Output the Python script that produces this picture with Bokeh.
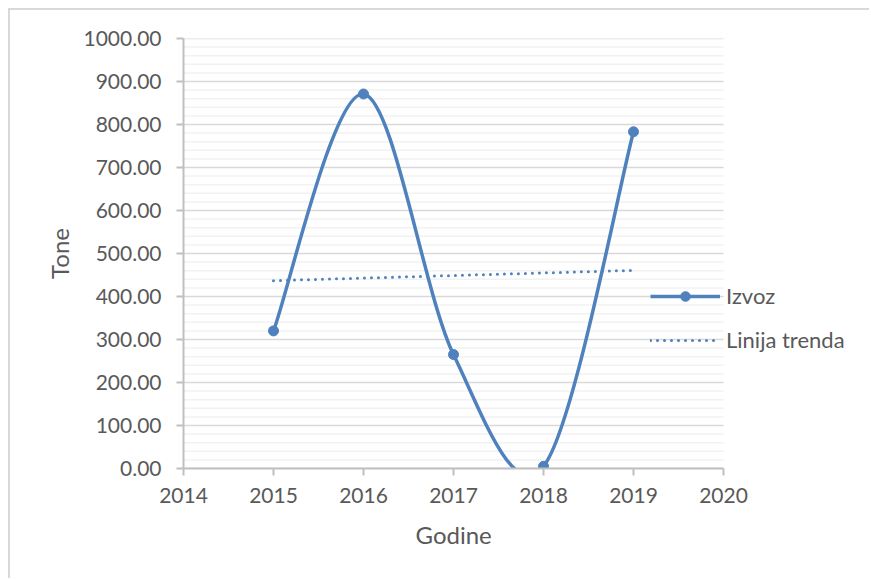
import numpy as np
from bokeh.plotting import figure
from bokeh.models import FixedTicker, SingleIntervalTicker, PrintfTickFormatter, Legend, LegendItem, Range1d, Title
from bokeh.embed import file_html
from bokeh.resources import INLINE

years = [2015, 2016, 2017, 2018, 2019]
izvoz = [320.0, 871.0, 265.0, 5.0, 783.0]
x_ticks = [2014, 2015, 2016, 2017, 2018, 2019, 2020]
y_major_step = 100
y_minor_step = 20
y_max = 1000

BLUE = "#4f81bd"
FONT = "Lato"
TXT = "#595959"

W, H = 861, 570
ML, MR, MT, MB = 173, 10, 28, 112
frame_w = W - ML - MR
px_per_year = 90.0
x_end = x_ticks[0] + frame_w / px_per_year

p = figure(width=W, height=H, output_backend="svg", toolbar_location=None,
           x_range=Range1d(x_ticks[0], x_end), y_range=Range1d(0, y_max),
           min_border_left=ML, min_border_right=MR, min_border_top=MT, min_border_bottom=MB)
p.styles = {"margin-left": "8px", "margin-top": "8px",
            "border-left": "2px solid #d9d9d9", "border-top": "2px solid #d9d9d9"}
p.outline_line_color = None
p.xgrid.grid_line_color = None
p.ygrid.grid_line_color = None

# grid lines limited to the axis span
minor_y = [v for v in range(0, y_max + 1, y_minor_step) if v % y_major_step != 0]
major_y = list(range(0, y_max + 1, y_major_step))
p.segment(x0=[x_ticks[0]] * len(minor_y), x1=[x_ticks[-1]] * len(minor_y), y0=minor_y, y1=minor_y,
          line_color="#f2f2f2", line_width=1.5)
p.segment(x0=[x_ticks[0]] * len(major_y), x1=[x_ticks[-1]] * len(major_y), y0=major_y, y1=major_y,
          line_color="#d9d9d9", line_width=1.5)

# smooth (Catmull-Rom style) bezier through data points
xs = np.array(years, dtype=float)
ys = np.array(izvoz, dtype=float)
n = len(xs)
xp = np.concatenate([[xs[0]], xs, [xs[-1]]])
yp = np.concatenate([[ys[0]], ys, [ys[-1]]])
x0 = xs[:-1]; y0 = ys[:-1]; x1 = xs[1:]; y1 = ys[1:]
cx0 = x0 + (xp[2:n+1] - xp[0:n-1]) / 6.0
cy0 = y0 + (yp[2:n+1] - yp[0:n-1]) / 6.0
cx1 = x1 - (xp[3:n+2] - xp[1:n]) / 6.0
cy1 = y1 - (yp[3:n+2] - yp[1:n]) / 6.0
p.bezier(x0=x0, y0=y0, x1=x1, y1=y1, cx0=cx0, cy0=cy0, cx1=cx1, cy1=cy1,
         line_color=BLUE, line_width=3.5)

line_leg = p.line([np.nan], [np.nan], line_color=BLUE, line_width=3.5)
pts = p.scatter(years, izvoz, size=10, fill_color=BLUE, line_color=BLUE)

# linear trend line
k, b = np.polyfit(xs, ys, 1)
tx = [years[0], years[-1]]
ty = [k * years[0] + b, k * years[-1] + b]
trend = p.line(tx, ty, line_color=BLUE, line_width=3, line_dash="0 7", line_cap="round")

legend = Legend(items=[LegendItem(label="Izvoz", renderers=[line_leg, pts]),
                       LegendItem(label="Linija trenda", renderers=[trend])],
                location=(467, 115), glyph_width=70, glyph_height=24, label_height=27,
                spacing=17, padding=0, margin=0, label_standoff=6,
                label_text_font=FONT, label_text_font_size="22px", label_text_color=TXT,
                border_line_color=None, background_fill_alpha=0)
p.add_layout(legend)

# axes
p.xaxis.ticker = FixedTicker(ticks=x_ticks)
p.xaxis.bounds = (x_ticks[0], x_ticks[-1])
p.yaxis.ticker = SingleIntervalTicker(interval=y_major_step, num_minor_ticks=5)
p.yaxis.formatter = PrintfTickFormatter(format="%.2f")
for ax in (p.xaxis, p.yaxis):
    ax.axis_line_color = "#bfbfbf"
    ax.axis_line_width = 2
    ax.major_tick_line_color = "#bfbfbf"
    ax.major_tick_line_width = 2
    ax.major_tick_out = 7
    ax.major_tick_in = 0
    ax.minor_tick_line_color = None
    ax.major_label_text_font = FONT
    ax.major_label_text_font_size = "21px"
    ax.major_label_text_color = TXT
    ax.axis_label_text_font = FONT
    ax.axis_label_text_font_size = "24px"
    ax.axis_label_text_color = TXT
    ax.axis_label_text_font_style = "normal"
p.yaxis.axis_label = "Tone"
p.yaxis.major_label_standoff = 15
p.xaxis.major_label_standoff = 12
p.yaxis.axis_label_standoff = 6

# x-axis title, centred under the 2014-2020 axis span
xtitle = Title(text="Godine", align="left", offset=232, standoff=24,
               text_font=FONT, text_font_size="24px", text_font_style="normal", text_color=TXT)
p.add_layout(xtitle, "below")

open("out.html", "w").write(file_html(p, INLINE))
